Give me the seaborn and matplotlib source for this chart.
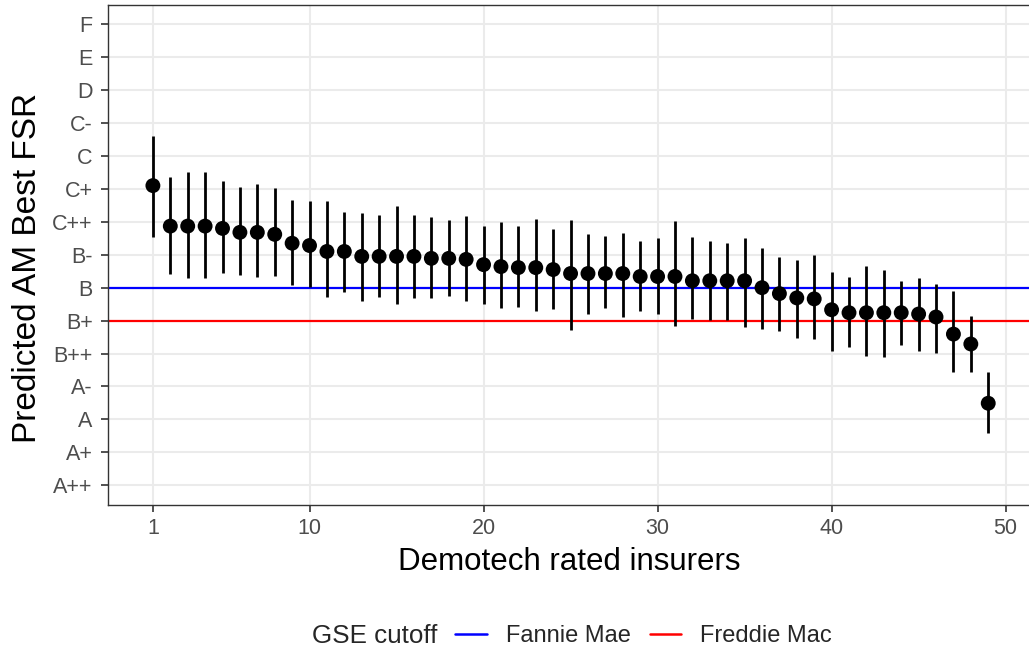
import pandas as pd
import matplotlib.pyplot as plt
import seaborn as sns
from matplotlib.lines import Line2D

# AM Best rating scale, best (bottom) to worst (top)
rating_levels = ['A++', 'A+', 'A', 'A-', 'B++', 'B+', 'B', 'B-',
                 'C++', 'C+', 'C', 'C-', 'D', 'E', 'F']

insurer_rank = list(range(1, 50))

# predicted rating on the 0..14 scale above (0 = A++)
pred_rating = [9.10, 7.87, 7.87, 7.87, 7.80, 7.68, 7.68, 7.62, 7.35, 7.28,
               7.10, 7.10, 6.95, 6.95, 6.95, 6.95, 6.89, 6.89, 6.86, 6.70,
               6.64, 6.61, 6.61, 6.55, 6.43, 6.43, 6.43, 6.43, 6.34, 6.34,
               6.34, 6.21, 6.21, 6.21, 6.21, 6.00, 5.82, 5.69, 5.66, 5.33,
               5.24, 5.24, 5.24, 5.24, 5.20, 5.11, 4.59, 4.29, 2.49]
ci_high = [10.62, 9.36, 9.52, 9.52, 9.24, 9.06, 9.15, 9.03, 8.66, 8.63,
           8.63, 8.29, 8.26, 8.20, 8.48, 8.20, 8.14, 8.05, 8.17, 7.87,
           7.99, 7.87, 8.08, 7.77, 8.05, 7.62, 7.56, 7.65, 7.41, 7.50,
           8.02, 7.53, 7.41, 7.35, 7.50, 7.19, 6.92, 6.83, 6.98, 6.49,
           6.31, 6.67, 6.55, 6.21, 6.28, 6.12, 5.91, 5.14, 3.43]
ci_low = [7.53, 6.43, 6.28, 6.28, 6.46, 6.37, 6.31, 6.34, 6.09, 6.03,
          5.72, 5.88, 5.60, 5.72, 5.51, 5.69, 5.69, 5.76, 5.60, 5.51,
          5.39, 5.42, 5.30, 5.36, 4.72, 5.20, 5.39, 5.11, 5.30, 5.20,
          4.84, 5.05, 5.02, 5.02, 4.81, 4.75, 4.69, 4.47, 4.44, 4.07,
          4.19, 3.91, 3.88, 4.26, 4.07, 4.01, 3.43, 3.43, 1.59]

x_ticks = [1, 10, 20, 30, 40, 50]

cutoff_names = ['Fannie Mae', 'Freddie Mac']
cutoff_ratings = ['B', 'B+']
cutoff_colors = ['#0000FF', '#FF0000']

df = pd.DataFrame({'rank': insurer_rank, 'pred': pred_rating,
                   'low': ci_low, 'high': ci_high})

sns.set_theme(style='white')
plt.rcParams['font.family'] = ['Liberation Sans', 'DejaVu Sans']

fig = plt.figure(figsize=(10.29, 6.52), dpi=100)
ax = fig.add_axes([108 / 1029, 1 - 505 / 652, 922 / 1029, 500.5 / 652])

# GSE cutoff lines
for name, r, c in zip(cutoff_names, cutoff_ratings, cutoff_colors):
    ax.axhline(rating_levels.index(r), color=c, linewidth=1.6, zorder=2)

# confidence intervals + point estimates
ax.vlines(df['rank'], df['low'], df['high'], color='black', linewidth=2.0, zorder=3)
sns.scatterplot(data=df, x='rank', y='pred', color='black', s=115,
                edgecolor='none', ax=ax, zorder=4)

ax.set_xlim(-1.58, 51.4)
ax.set_ylim(-0.6, len(rating_levels) - 0.4)
ax.set_xticks(x_ticks)
ax.set_yticks(range(len(rating_levels)))
ax.set_yticklabels(rating_levels)

ax.grid(True, color='#EBEBEB', linewidth=1.5)
ax.set_axisbelow(True)
for s in ax.spines.values():
    s.set_color('#333333')
    s.set_linewidth(1.0)

ax.tick_params(axis='both', which='major', length=5, width=1.2, color='#333333',
               labelcolor='#4D4D4D', labelsize=15.5, bottom=True, left=True)
ax.tick_params(axis='y', pad=6)
ax.tick_params(axis='x', pad=4)

ax.set_xlabel('Demotech rated insurers', fontsize=22.5, color='black', labelpad=6)
ax.set_ylabel('Predicted AM Best FSR', fontsize=24, color='black')
ax.yaxis.set_label_coords(-0.07, 0.474)

# legend along the bottom
handles = [Line2D([0], [0], color=c, linewidth=1.8) for c in cutoff_colors]
fig.text(312 / 1029, 1 - 636 / 652, 'GSE cutoff', fontsize=18.7, va='center', ha='left')
fig.legend(handles, cutoff_names, loc='center left', ncol=2,
           bbox_to_anchor=(455 / 1029, 1 - 636 / 652), frameon=False,
           fontsize=17, handlelength=1.35, handletextpad=0.8,
           columnspacing=0.8, borderpad=0, borderaxespad=0)

fig.savefig('out.png', dpi=100)
plt.close(fig)
